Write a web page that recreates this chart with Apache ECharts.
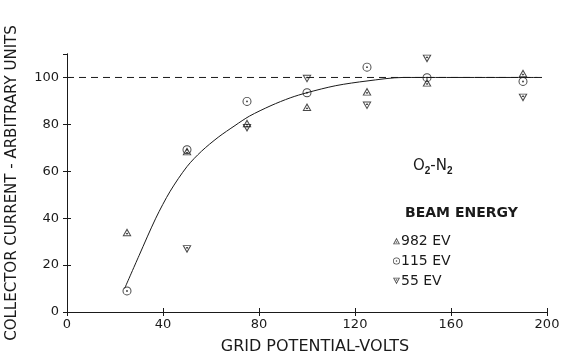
<!DOCTYPE html>
<html>
<head>
<meta charset="utf-8">
<script src="https://cdn.jsdelivr.net/npm/echarts@6/dist/echarts.min.js"></script>
<style>
  html, body { margin: 0; padding: 0; background: #fff; }
  #main { width: 566px; height: 364px; }
</style>
</head>
<body>
<div id="main"></div>
<script>
// grid potential (volts) where the points were measured
var volts = [25, 50, 75, 100, 125, 150, 190];
// collector current, arbitrary units, per beam energy
var ev982 = [34, 68.5, 80.5, 87.4, 94, 97.8, 101.8];
var ev115 = [9, 69.2, 89.8, 93.5, 104.4, 99.9, 98.3];
var ev55 = [null, 26.8, 78.5, 99.4, 88, 108, 91.4];
// hand-drawn curve
var curveX = [24, 30, 37, 43, 50, 56, 63, 70, 76, 85, 93, 100, 112, 125, 140, 196];
var curveY = [10, 24, 40, 51.5, 62, 68.5, 74.5, 79.5, 83.5, 88, 91.3, 93.5, 96.5, 98.5, 100, 100];
var refX = [0, 200];
var refY = [100, 100];

var ink = '#1a1a1a';
var font = 'DejaVu Sans';

function pairs(xs, ys) {
  var out = [];
  for (var i = 0; i < xs.length; i++) {
    if (ys[i] != null) out.push([xs[i], ys[i]]);
  }
  return out;
}

// hollow marks with a dot in the middle
var triUp = 'path://M0,-10L10,8L-10,8Z M0,-5L-6.3,6L6.3,6Z M0,0.4A1.8,1.8,0,1,1,0,3.6A1.8,1.8,0,1,1,0,0.4Z';
var triDown = 'path://M0,10L-10,-8L10,-8Z M0,5L6.3,-6L-6.3,-6Z M0,-0.4A1.8,1.8,0,1,0,0,-3.6A1.8,1.8,0,1,0,0,-0.4Z';
var ring = 'path://M0,-10A10,10,0,1,1,0,10A10,10,0,1,1,0,-10Z M0,-7.8A7.8,7.8,0,1,0,0,7.8A7.8,7.8,0,1,0,0,-7.8Z M0,-2.2A2.2,2.2,0,1,1,0,2.2A2.2,2.2,0,1,1,0,-2.2Z';

var axisCommon = {
  type: 'value',
  axisLine: { show: true, lineStyle: { color: ink, width: 1 } },
  axisTick: { show: true, inside: true, length: 4, lineStyle: { color: ink } },
  splitLine: { show: false }
};

var chart = echarts.init(document.getElementById('main'), null, { renderer: 'canvas' });
chart.setOption({
  backgroundColor: '#fff',
  animation: false,
  grid: { left: 67, right: 19, top: 54, bottom: 52, containLabel: false, outerBoundsMode: 'none' },
  xAxis: [
    Object.assign({}, axisCommon, {
      min: 0, max: 200, interval: 40, position: 'bottom',
      axisLabel: { color: ink, fontFamily: font, fontSize: 13, margin: 6 },
      name: 'GRID POTENTIAL-VOLTS',
      nameLocation: 'middle',
      nameGap: 27,
      nameTextStyle: { color: ink, fontFamily: font, fontSize: 16, verticalAlign: 'top', padding: [0, 0, 0, 16] }
    }),
    Object.assign({}, axisCommon, {
      min: 0, max: 200, interval: 40, position: 'top',
      axisLabel: { show: false }
    })
  ],
  yAxis: [
    Object.assign({}, axisCommon, {
      min: 0, max: 110, interval: 20, position: 'left',
      axisLabel: { color: ink, fontFamily: font, fontSize: 13, margin: 8, showMaxLabel: false },
      name: 'COLLECTOR CURRENT - ARBITRARY UNITS',
      nameLocation: 'middle',
      nameGap: 47,
      nameTextStyle: { color: ink, fontFamily: font, fontSize: 15 }
    }),
    Object.assign({}, axisCommon, {
      min: 0, max: 110, interval: 20, position: 'right',
      axisLabel: { show: false }
    })
  ],
  legend: {
    data: ['982 EV', '115 EV', '55 EV'],
    orient: 'vertical',
    left: 393,
    top: 234,
    padding: 0,
    itemGap: 6,
    itemWidth: 7,
    itemHeight: 7,
    itemStyle: { color: ink },
    textStyle: { color: ink, fontFamily: font, fontSize: 14, padding: [0, 0, 0, -4] },
    selectedMode: false
  },
  graphic: [
    {
      type: 'text', left: 413, top: 159,
      style: {
        text: 'O{s|2}-N{s|2}',
        fill: ink, font: '15px "DejaVu Sans"',
        rich: { s: { fontSize: 10, fontWeight: 'bold', padding: [9, 0, 0, 0], fill: ink } }
      }
    },
    {
      type: 'text', left: 405, top: 206,
      style: { text: 'BEAM ENERGY', fill: ink, font: 'bold 14px "DejaVu Sans"' }
    }
  ],
  series: [
    {
      type: 'line', data: pairs(refX, refY), symbol: 'none', silent: true,
      lineStyle: { color: ink, width: 1, type: [7, 5] }
    },
    {
      type: 'line', data: pairs(curveX, curveY), symbol: 'none', smooth: 0.3, silent: true,
      lineStyle: { color: ink, width: 1 }
    },
    {
      name: '982 EV', type: 'scatter', data: pairs(volts, ev982),
      symbol: triUp, symbolSize: [9, 8], itemStyle: { color: ink }
    },
    {
      name: '115 EV', type: 'scatter', data: pairs(volts, ev115),
      symbol: ring, symbolSize: 9, itemStyle: { color: ink }
    },
    {
      name: '55 EV', type: 'scatter', data: pairs(volts, ev55),
      symbol: triDown, symbolSize: [9, 8], itemStyle: { color: ink }
    }
  ]
});
</script>
</body>
</html>
